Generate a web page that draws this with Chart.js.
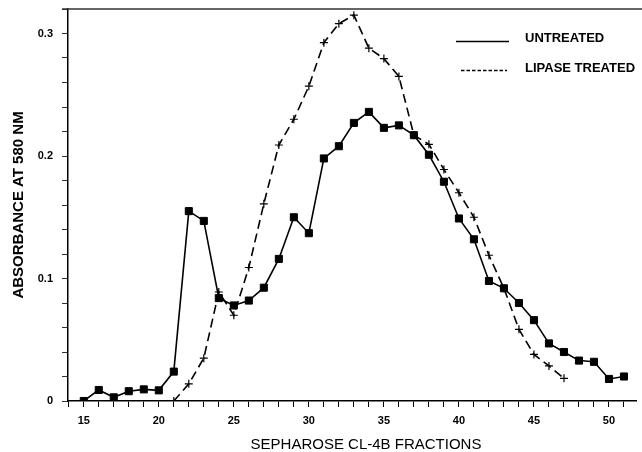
<!DOCTYPE html>
<html>
<head>
<meta charset="utf-8">
<script src="https://cdn.jsdelivr.net/npm/chart.js@4.4.1/dist/chart.umd.min.js"></script>
<style>
  html, body { margin: 0; padding: 0; background: #ffffff; }
  #wrap { width: 642px; height: 452px; position: relative; }
</style>
</head>
<body>
<div id="wrap"><canvas id="c" width="642" height="452"></canvas></div>
<script>
// ---- data ----
const untreatedFractions = [15,16,17,18,19,20,21,22,23,24,25,26,27,28,29,30,31,32,33,34,35,36,37,38,39,40,41,42,43,44,45,46,47,48,49,50,51];
const untreatedValues = [0, 0.009, 0.003, 0.008, 0.0095, 0.0087, 0.024, 0.155, 0.147, 0.084, 0.078, 0.082, 0.0925, 0.116, 0.150, 0.137, 0.198, 0.208, 0.227, 0.236, 0.223, 0.225, 0.217, 0.201, 0.179, 0.149, 0.132, 0.098, 0.092, 0.080, 0.066, 0.047, 0.040, 0.033, 0.032, 0.018, 0.020];
const lipaseFractions = [21,22,23,24,25,26,27,28,29,30,31,32,33,34,35,36,37,38,39,40,41,42,43,44,45,46,47];
const lipaseValues = [0, 0.014, 0.035, 0.089, 0.070, 0.109, 0.161, 0.209, 0.230, 0.257, 0.2925, 0.308, 0.315, 0.288, 0.2795, 0.265, 0.217, 0.2095, 0.189, 0.170, 0.150, 0.119, 0.092, 0.0585, 0.038, 0.0286, 0.0185];
const xTickValues = [14,15,16,17,18,19,20,21,22,23,24,25,26,27,28,29,30,31,32,33,34,35,36,37,38,39,40,41,42,43,44,45,46,47,48,49,50,51];
const xLabelValues = [15,20,25,30,35,40,45,50];
const yTickSteps = [0,1,2,3,4,5,6,7,8,9,10,11,12,13,14,15,16]; // in units of 0.02
const yLabelValues = ['0','0.1','0.2','0.3'];
const seriesNames = ['UNTREATED', 'LIPASE TREATED'];
const xTitle = 'SEPHAROSE CL-4B FRACTIONS';
const yTitle = 'ABSORBANCE AT 580 NM';

const FONT = "'Liberation Sans', Arial, Helvetica, sans-serif";

const toPts = (xs, ys) => xs.map((x, i) => ({x: x, y: ys[i]}));

const decorPlugin = {
  id: 'decor',
  afterDraw(chart) {
    const ctx = chart.ctx;
    const a = chart.chartArea;
    ctx.save();
    // top frame line
    ctx.strokeStyle = '#333';
    ctx.lineWidth = 1.5;
    ctx.beginPath();
    ctx.moveTo(a.left - 6, a.top);
    ctx.lineTo(642, a.top);
    ctx.stroke();
    // x title
    ctx.fillStyle = '#000';
    ctx.font = '15px ' + FONT;
    ctx.textAlign = 'center';
    ctx.textBaseline = 'middle';
    ctx.fillText(xTitle, 366, 445);
    // legend
    ctx.strokeStyle = '#000';
    ctx.lineWidth = 1.5;
    ctx.beginPath();
    ctx.moveTo(456, 41.5);
    ctx.lineTo(509, 41.5);
    ctx.stroke();
    ctx.setLineDash([3.5, 2]);
    ctx.beginPath();
    ctx.moveTo(461, 70.5);
    ctx.lineTo(507, 70.5);
    ctx.stroke();
    ctx.setLineDash([]);
    ctx.font = 'bold 13px ' + FONT;
    ctx.textAlign = 'left';
    ctx.fillText(seriesNames[0], 525, 38.5);
    ctx.fillText(seriesNames[1], 525, 68.5);
    ctx.restore();
  }
};

new Chart(document.getElementById('c'), {
  type: 'line',
  data: {
    datasets: [
      {
        label: seriesNames[0],
        data: toPts(untreatedFractions, untreatedValues),
        borderColor: '#000',
        backgroundColor: '#000',
        borderWidth: 1.6,
        pointStyle: 'rect',
        pointRadius: 5,
        pointBorderWidth: 1,
        pointBackgroundColor: '#000',
        pointBorderColor: '#000',
        tension: 0
      },
      {
        label: seriesNames[1],
        data: toPts(lipaseFractions, lipaseValues),
        borderColor: '#000',
        backgroundColor: '#000',
        borderWidth: 1.6,
        borderDash: [9, 5],
        pointStyle: 'cross',
        pointRadius: 4,
        pointBorderWidth: 1.2,
        pointBorderColor: '#000',
        tension: 0
      }
    ]
  },
  options: {
    responsive: false,
    animation: false,
    events: [],
    layout: { padding: { top: 9, right: 0, left: 0, bottom: 0 } },
    plugins: { legend: { display: false }, tooltip: { enabled: false } },
    scales: {
      x: {
        type: 'linear',
        min: 13.95,
        max: 51.8,
        afterBuildTicks: (s) => { s.ticks = xTickValues.map(v => ({value: v})); },
        afterFit: (s) => { s.height = 51; s.paddingLeft = 0; s.paddingRight = 0; },
        ticks: {
          autoSkip: false,
          maxRotation: 0,
          color: '#000',
          padding: 7,
          font: { family: FONT, size: 11, weight: 'bold' },
          callback: (v) => xLabelValues.includes(v) ? String(v) : ''
        },
        grid: { drawOnChartArea: false, drawTicks: true, tickLength: 6, color: '#000', lineWidth: 1 },
        border: { display: true, color: '#000', width: 1.5 }
      },
      y: {
        type: 'linear',
        min: 0,
        max: 0.32,
        afterBuildTicks: (s) => { s.ticks = yTickSteps.map(i => ({value: i / 50})); },
        afterFit: (s) => { s.width = 68; s.paddingTop = 0; s.paddingBottom = 0; },
        ticks: {
          autoSkip: false,
          color: '#000',
          padding: 9,
          font: { family: FONT, size: 11, weight: 'bold' },
          callback: (v) => {
            const i = Math.round(v * 50);
            return (i % 5 === 0) ? yLabelValues[i / 5] : '';
          }
        },
        grid: { drawOnChartArea: false, drawTicks: true, tickLength: 6, color: '#333', lineWidth: 1 },
        border: { display: true, color: '#000', width: 1.5 },
        title: {
          display: true,
          text: yTitle,
          color: '#000',
          padding: { top: 10, bottom: 0 },
          font: { family: FONT, size: 15, weight: 'bold' }
        }
      }
    }
  },
  plugins: [decorPlugin]
});
</script>
</body>
</html>
